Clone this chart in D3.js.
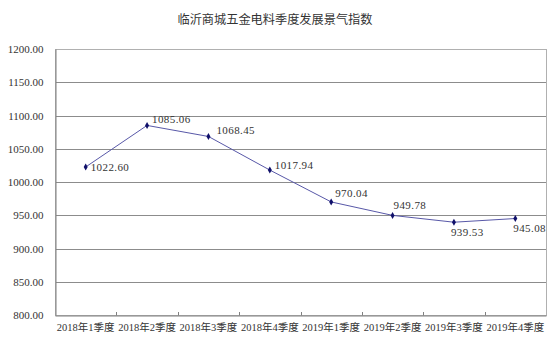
<!DOCTYPE html>
<html><head><meta charset="utf-8">
<script src="https://cdn.jsdelivr.net/npm/d3@7"></script>
<style>body{margin:0;background:#fff;}svg{display:block;}</style>
</head><body>
<script>
const title = "临沂商城五金电料季度发展景气指数";
const categories = ["2018年1季度","2018年2季度","2018年3季度","2018年4季度","2019年1季度","2019年2季度","2019年3季度","2019年4季度"];
const values = [1022.60, 1085.06, 1068.45, 1017.94, 970.04, 949.78, 939.53, 945.08];
const yTicks = [800, 850, 900, 950, 1000, 1050, 1100, 1150, 1200];
// label placement offsets
const labelPos = [[5,4],[5,-2],[8,-2],[5,-1],[4,-5],[1,-6],[-3,14],[-2,13]];

const W = 553, H = 341;
const m = {left:55, right:7, top:49, bottom:26};
const svg = d3.select("body").append("svg").attr("width", W).attr("height", H);
const cjk = "'Noto Sans CJK SC', sans-serif";
const num = "'Liberation Serif', 'Noto Sans CJK SC', serif";

const x = d3.scaleBand().domain(categories).range([m.left, W - m.right]);
const y = d3.scaleLinear().domain([800, 1200]).range([H - m.bottom, m.top]);

svg.append("text").attr("x", 275).attr("y", 24).attr("text-anchor","middle")
  .attr("font-family", cjk).attr("font-size", 12.2).attr("fill","#333").text(title);

// gridlines
svg.append("g").selectAll("line").data(yTicks.slice(1)).join("line")
  .attr("x1", m.left).attr("x2", W - m.right)
  .attr("y1", d => Math.round(y(d)) + 0.5).attr("y2", d => Math.round(y(d)) + 0.5)
  .attr("stroke", "#8c8c8c").attr("stroke-width", 1);

// plot border
svg.append("rect").attr("x", m.left + 0.5).attr("y", Math.round(y(1200)) + 0.5)
  .attr("width", W - m.right - m.left).attr("height", Math.round(y(800)) - Math.round(y(1200)))
  .attr("fill","none").attr("stroke","#b0b0b0");

// y axis
const yAxis = svg.append("g").attr("transform", `translate(${m.left + 0.5},0)`)
  .call(d3.axisLeft(y).tickValues(yTicks).tickSize(0).tickPadding(12).tickFormat(d3.format(".2f")));
yAxis.select(".domain").attr("stroke", "#808080");
yAxis.selectAll("text").attr("font-family", num).attr("font-size", 11).attr("fill","#333");
yAxis.selectAll("line").remove();

// x axis
const xAxis = svg.append("g").attr("transform", `translate(0,${Math.round(y(800)) + 0.5})`)
  .call(d3.axisBottom(x).tickSize(0).tickPadding(8));
xAxis.select(".domain").attr("stroke", "#808080");
xAxis.selectAll("text").attr("font-family", num).attr("font-size", 10.5).attr("fill","#333");
svg.append("g").selectAll("line").data(categories.slice(1)).join("line")
  .attr("x1", d => Math.round(x(d)) + 0.5).attr("x2", d => Math.round(x(d)) + 0.5)
  .attr("y1", Math.round(y(800)) + 0.5).attr("y2", Math.round(y(800)) - 3)
  .attr("stroke", "#808080");

const cx = d => x(d) + x.bandwidth() / 2;
const pts = categories.map((c, i) => [cx(c), y(values[i])]);

svg.append("path").attr("d", d3.line()(pts)).attr("fill","none")
  .attr("stroke","#5858a8").attr("stroke-width", 1);

svg.append("g").selectAll("path").data(pts).join("path")
  .attr("d", d3.symbol(d3.symbolDiamond, 14)())
  .attr("transform", d => `translate(${d[0]},${d[1]})`)
  .attr("fill", "#10106a");

svg.append("g").selectAll("text").data(values).join("text")
  .attr("x", (d,i) => pts[i][0] + labelPos[i][0])
  .attr("y", (d,i) => pts[i][1] + labelPos[i][1])
  .attr("font-family", num).attr("font-size", 11).attr("fill","#333")
  .attr("letter-spacing", 0.4)
  .text(d => d3.format(".2f")(d));
</script>
</body></html>
